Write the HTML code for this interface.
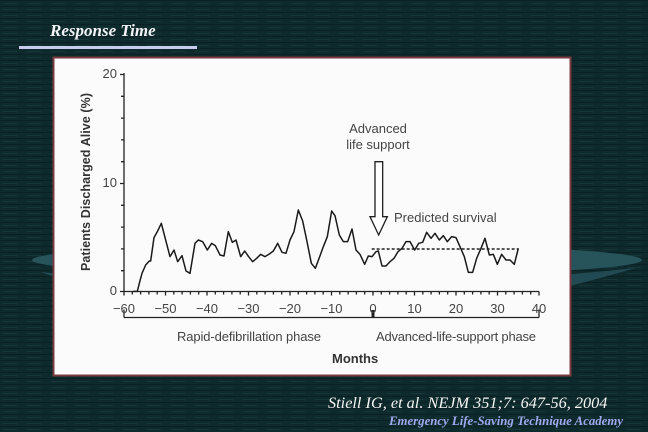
<!DOCTYPE html>
<html><head><meta charset="utf-8"><style>
html,body{margin:0;padding:0;}
body{width:648px;height:432px;overflow:hidden;background:#0f2a2c;position:relative;font-family:"Liberation Sans",sans-serif;}
</style></head><body>
<svg width="648" height="432" viewBox="0 0 648 432" style="position:absolute;left:0;top:0">
<defs>
<pattern id="tex" width="24" height="6" patternUnits="userSpaceOnUse">
<rect width="24" height="6" fill="#0f2a2c"/>
<rect y="0" width="24" height="1" fill="#0a2123"/>
<rect x="3" y="3" width="14" height="1" fill="#173638"/>
</pattern>
</defs>
<rect width="648" height="432" fill="url(#tex)"/>
<ellipse cx="337" cy="260" rx="305" ry="16" fill="#27535a"/>
<path d="M40 272 Q330 300 636 268 Q420 330 330 318 Q150 310 40 272Z" fill="#224a52"/>
<path d="M430 200 Q470 230 505 215" stroke="#2e5860" stroke-width="5" fill="none"/>
<text x="50" y="36" font-family="Liberation Serif,serif" font-style="italic" font-weight="bold" font-size="17" fill="#f2f4f8">Response Time</text>
<rect x="19" y="46" width="178" height="3" fill="#c8ccec"/>
<rect x="53.5" y="57.5" width="517" height="318" fill="#fbfbfb" stroke="#7a3a40" stroke-width="2"/>
<g stroke="#222" fill="none" stroke-width="1.3">
<line x1="124" y1="73" x2="124" y2="291.5"/>
<line x1="124" y1="291.5" x2="539" y2="291.5"/>
<path d="M124 74.5h-4M124 96.3h-3M124 118.1h-3M124 139.9h-3M124 161.7h-3M124 183.5h-4M124 205.3h-3M124 227.1h-3M124 248.9h-3M124 270.7h-3M124 291.5h-4"/>
<path d="M124 291.5v4M132.3 291.5v3M140.6 291.5v3M148.9 291.5v3M157.2 291.5v3M165.5 291.5v4M173.8 291.5v3M182.1 291.5v3M190.4 291.5v3M198.7 291.5v3M207 291.5v4M215.3 291.5v3M223.6 291.5v3M231.9 291.5v3M240.2 291.5v3M248.5 291.5v4M256.8 291.5v3M265.1 291.5v3M273.4 291.5v3M281.7 291.5v3M290 291.5v4M298.3 291.5v3M306.6 291.5v3M314.9 291.5v3M323.2 291.5v3M331.5 291.5v4M339.8 291.5v3M348.1 291.5v3M356.4 291.5v3M364.7 291.5v3M373 291.5v4M381.3 291.5v3M389.6 291.5v3M397.9 291.5v3M406.2 291.5v3M414.5 291.5v4M422.8 291.5v3M431.1 291.5v3M439.4 291.5v3M447.7 291.5v3M456 291.5v4M464.3 291.5v3M472.6 291.5v3M480.9 291.5v3M489.2 291.5v3M497.5 291.5v4M505.8 291.5v3M514.1 291.5v3M522.4 291.5v3M530.7 291.5v3M539 291.5v4"/>
<path d="M124 317.5h415M124 317.5v-8M539 317.5v-8"/>
<line x1="373" y1="317.5" x2="373" y2="310" stroke-width="3"/>
</g>
<g font-size="13" fill="#444" font-family="Liberation Sans,sans-serif">
<text x="117" y="78" text-anchor="end">20</text>
<text x="117" y="187" text-anchor="end">10</text>
<text x="117" y="295" text-anchor="end">0</text>
<g text-anchor="middle">
<text x="124" y="313">−60</text><text x="165.5" y="313">−50</text><text x="207" y="313">−40</text><text x="248.5" y="313">−30</text><text x="290" y="313">−20</text><text x="331.5" y="313">−10</text><text x="373" y="313">0</text><text x="414.5" y="313">10</text><text x="456" y="313">20</text><text x="497.5" y="313">30</text><text x="539" y="313">40</text>
</g>
<text x="177" y="341" textLength="144">Rapid-defibrillation phase</text>
<text x="376" y="341" textLength="160">Advanced-life-support phase</text>
<text x="332" y="363" font-weight="bold" fill="#333">Months</text>
<text x="378" y="133" text-anchor="middle">Advanced</text>
<text x="378" y="149" text-anchor="middle">life support</text>
<text x="394" y="222">Predicted survival</text>
<text transform="translate(90,271) rotate(-90)" font-weight="bold" fill="#333" font-size="12.5" textLength="178">Patients Discharged Alive (%)</text>
</g>
<g transform="translate(50,55) scale(0.33333)">
<path d="M975 320H998V485H1012L986 540L960 485H975Z" fill="#fff" stroke="#222" stroke-width="4"/>
<line x1="965" y1="582" x2="1405" y2="582" stroke="#222" stroke-width="4.5" stroke-dasharray="9,6"/>
<polyline fill="none" stroke="#1a1a1a" stroke-width="4.5" stroke-linejoin="round" points="250,709 262,709 268,685 276,655 287,630 298,618 302,618 312,548 322,530 334,505 343,540 360,605 372,585 383,620 396,602 408,648 420,655 435,565 445,555 458,560 472,585 485,565 496,572 510,600 522,603 535,530 547,562 558,555 572,605 584,588 596,605 608,620 620,610 632,598 645,605 658,597 670,588 683,565 696,592 708,595 720,555 732,530 745,465 758,498 770,555 784,625 796,640 808,608 820,575 832,545 845,468 855,482 868,540 880,560 893,560 906,522 918,585 930,598 944,628 955,603 966,605 978,590 985,588 996,633 1008,633 1020,620 1032,610 1044,590 1056,580 1068,560 1080,560 1094,585 1106,565 1118,562 1130,532 1143,550 1155,535 1168,555 1180,542 1192,560 1205,545 1218,548 1230,575 1243,605 1255,652 1268,652 1280,610 1293,580 1305,550 1318,600 1330,598 1342,628 1355,598 1368,615 1380,615 1393,628 1405,580"/>
</g>
<text x="328" y="408" font-family="Liberation Serif,serif" font-style="italic" font-size="16.3" fill="#f4f4f4">Stiell IG, et al. NEJM 351;7: 647-56, 2004</text>
<text x="623" y="425" text-anchor="end" font-family="Liberation Serif,serif" font-style="italic" font-weight="bold" font-size="12.8" fill="#9eaaf0">Emergency Life-Saving Technique Academy</text>
</svg>
</body></html>
